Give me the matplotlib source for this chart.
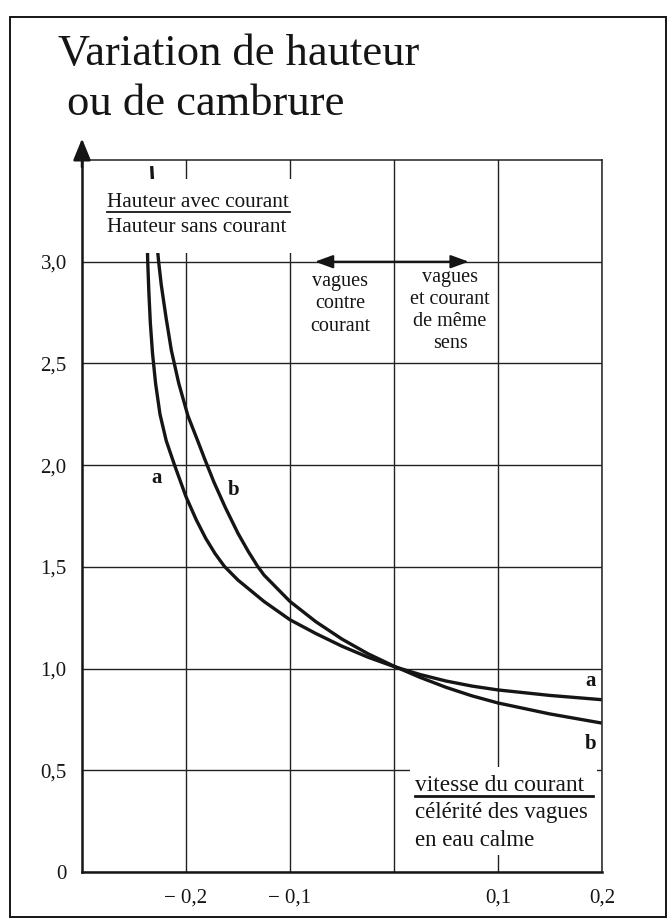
import matplotlib.pyplot as plt
from matplotlib.patches import Rectangle
from matplotlib.lines import Line2D

SERIF = ['Liberation Serif', 'DejaVu Serif']
plt.rcParams['font.family'] = SERIF

# courbe a
a_x = [-0.2380, -0.2368, -0.2357, -0.2343, -0.2322, -0.2292, -0.2250, -0.2190,
       -0.2110, -0.2000, -0.1900, -0.1810, -0.1720, -0.1630, -0.1500, -0.1250,
       -0.1000, -0.0750, -0.0500, -0.0250, 0.0000, 0.0250, 0.0500, 0.0750,
       0.1000, 0.1500, 0.2000]
a_y = [3.25, 3.00, 2.85, 2.70, 2.55, 2.40, 2.25, 2.12,
       2.00, 1.845, 1.730, 1.640, 1.565, 1.502, 1.435, 1.330,
       1.240, 1.172, 1.110, 1.056, 1.010, 0.971, 0.939, 0.914,
       0.895, 0.868, 0.847]

# courbe b
b_x = [-0.2330, -0.2300, -0.2263, -0.2238, -0.2192, -0.2141, -0.2070, -0.1981,
       -0.1880, -0.1820, -0.1730, -0.1620, -0.1500, -0.1400, -0.1314, -0.1250,
       -0.1000, -0.0750, -0.0500, -0.0250, 0.0000, 0.0250, 0.0500, 0.0750,
       0.1000, 0.1500, 0.2000]
b_y = [3.47, 3.20, 3.00, 2.887, 2.726, 2.565, 2.403, 2.242,
       2.110, 2.030, 1.915, 1.790, 1.665, 1.575, 1.505, 1.460,
       1.330, 1.230, 1.145, 1.073, 1.012, 0.957, 0.908, 0.866,
       0.831, 0.777, 0.732]

x_ticks = [-0.2, -0.1, 0.0, 0.1, 0.2]
x_labels = ['\u2212 0,2', '\u2212 0,1', '', '0,1', '0,2']
y_ticks = [0, 0.5, 1.0, 1.5, 2.0, 2.5, 3.0]
y_labels = ['0', '0,5', '1,0', '1,5', '2,0', '2,5', '3,0']

INK = '#151515'

fig = plt.figure(figsize=(6.69, 9.21), dpi=100)
ax = fig.add_axes([0.1226, 0.0532, 0.777, 0.7731])

ax.plot(a_x, a_y, color=INK, lw=2.4, solid_capstyle='butt', zorder=2)
ax.plot(b_x, b_y, color=INK, lw=2.4, solid_capstyle='butt', zorder=2)

ax.set_xlim(-0.3, 0.2)
ax.set_ylim(0, 3.5)
ax.set_xticks(x_ticks)
ax.set_xticklabels(x_labels)
ax.set_yticks(y_ticks)
ax.set_yticklabels(y_labels)
ax.tick_params(length=0, labelsize=15, colors=INK)
ax.tick_params(axis='x', pad=12)
ax.tick_params(axis='y', pad=11)
ax.set_axisbelow(True)
ax.grid(True, color='#222222', lw=1.0)

for side in ['left', 'bottom']:
    ax.spines[side].set_linewidth(1.8)
    ax.spines[side].set_color(INK)
for side in ['top', 'right']:
    ax.spines[side].set_linewidth(1.1)
    ax.spines[side].set_color('#222222')

# fleche de l'axe vertical
ax.annotate('', xy=(0, 1.03), xytext=(0, 0.99), xycoords='axes fraction',
            annotation_clip=False,
            arrowprops=dict(arrowstyle='-|>,head_length=1.1,head_width=0.45',
                            mutation_scale=12, lw=1.8, color=INK,
                            shrinkA=0, shrinkB=0))

# cartouche : hauteur avec / sans courant
ax.add_patch(Rectangle((0.015, 0.87), 0.389, 0.103, transform=ax.transAxes,
                       facecolor='white', edgecolor='none', zorder=3))
ax.text(0.048, 0.9405, 'Hauteur avec courant', transform=ax.transAxes,
        fontsize=15.3, va='center', ha='left', color=INK, zorder=4)
ax.add_line(Line2D([0.048, 0.401], [0.9265, 0.9265], transform=ax.transAxes,
                   color=INK, lw=1.3, zorder=4))
ax.text(0.048, 0.905, 'Hauteur sans courant', transform=ax.transAxes,
        fontsize=15.3, va='center', ha='left', color=INK, zorder=4)

# sens des vagues / courant
ax.annotate('', xy=(-0.076, 3.0), xytext=(0.072, 3.0),
            arrowprops=dict(arrowstyle='<|-|>,head_length=1.1,head_width=0.4',
                            mutation_scale=10, lw=1.5, color=INK,
                            shrinkA=0, shrinkB=0), zorder=4)
ax.text(-0.052, 2.95, 'vagues\ncontre\ncourant', ha='center', va='top',
        fontsize=14.5, linespacing=1.25, color=INK)
ax.text(0.054, 2.97, 'vagues\net courant\nde même\nsens', ha='center', va='top',
        fontsize=14.5, linespacing=1.22, color=INK)

# noms des courbes
for x, y, s in [(-0.228, 1.935, 'a'), (-0.154, 1.876, 'b'),
                (0.189, 0.938, 'a'), (0.189, 0.627, 'b')]:
    ax.text(x, y, s, ha='center', va='center', fontsize=15,
            fontweight='bold', color=INK, zorder=4)

# cartouche : vitesse du courant / célérité
ax.add_patch(Rectangle((0.63, 0.024), 0.36, 0.124, transform=ax.transAxes,
                       facecolor='white', edgecolor='none', zorder=3))
ax.text(0.64, 0.1215, 'vitesse du courant', transform=ax.transAxes,
        fontsize=16.8, va='center', ha='left', color=INK, zorder=4)
ax.add_line(Line2D([0.64, 0.983], [0.1065, 0.1065], transform=ax.transAxes,
                   color=INK, lw=2.0, zorder=4))
ax.text(0.64, 0.0838, 'célérité des vagues', transform=ax.transAxes,
        fontsize=16.5, va='center', ha='left', color=INK, zorder=4)
ax.text(0.64, 0.0447, 'en eau calme', transform=ax.transAxes,
        fontsize=16.5, va='center', ha='left', color=INK, zorder=4)

# titre
fig.text(58 / 669, 1 - 65 / 921, 'Variation de hauteur', fontsize=32,
         va='baseline', ha='left', color=INK)
fig.text(67 / 669, 1 - 115 / 921, 'ou de cambrure', fontsize=32,
         va='baseline', ha='left', color=INK)

# cadre de la page
fig.add_artist(Rectangle((10 / 669, 1 - 917 / 921), 656 / 669, 900 / 921,
                         transform=fig.transFigure, fill=False,
                         edgecolor=INK, lw=1.4))

fig.savefig('out.png', dpi=100)
